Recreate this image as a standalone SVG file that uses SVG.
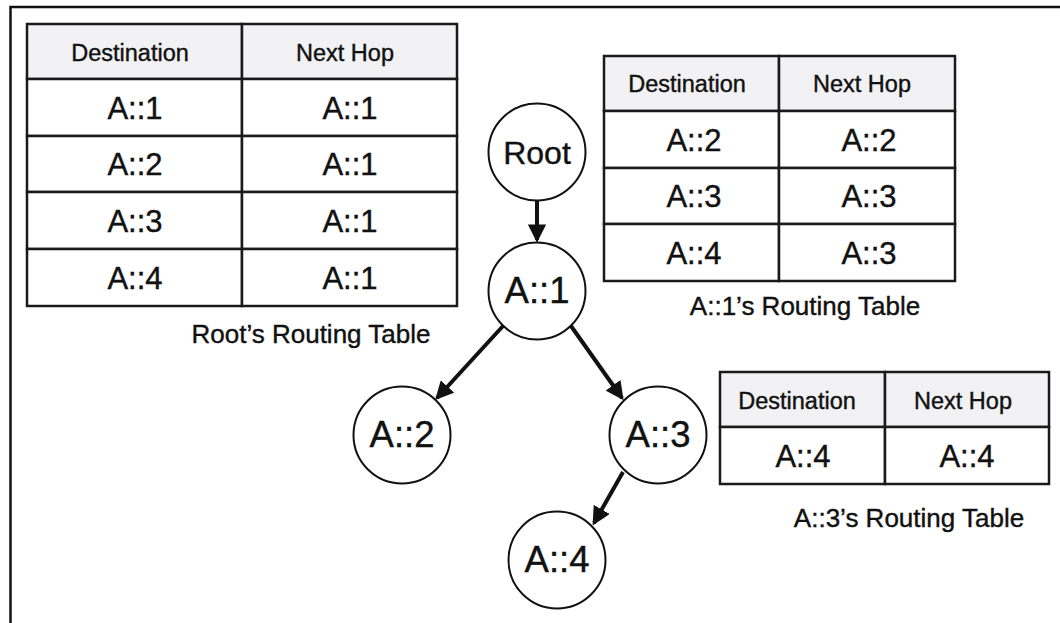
<svg xmlns="http://www.w3.org/2000/svg" width="1060" height="623" viewBox="0 0 1060 623">
<style>
text{font-family:"Liberation Sans",Arial,sans-serif;fill:#111;stroke:#111;stroke-width:0.4;text-anchor:middle}
.hd{fill:#f2f2f4;stroke:#1a1a1a;stroke-width:2.5}
.cell{fill:#fff;stroke:#1a1a1a;stroke-width:2.5}
.th{font-size:23.5px}
.td{font-size:31px}
.cap{font-size:26px}
.node circle{fill:#fff;stroke:#111;stroke-width:2}
.nt{font-size:36.5px}
.edge{stroke:#111;stroke-width:4;fill:none;marker-end:url(#ah)}
</style>
<defs>
<marker id="ah" markerWidth="4.6" markerHeight="4.6" refX="3.9" refY="2.3" orient="auto" markerUnits="strokeWidth">
<path d="M0,0 L4.6,2.3 L0,4.6 Z" fill="#111"/>
</marker>
</defs>
<rect width="1060" height="623" fill="#fff"/>
<path d="M10.5,623 V7 H1060" fill="none" stroke="#111" stroke-width="2.5"/>

<g id="root-table">
<rect class="hd" x="27" y="24" width="215" height="55"/>
<rect class="hd" x="242" y="24" width="215" height="55"/>
<rect class="cell" x="27" y="79" width="215" height="57"/>
<rect class="cell" x="242" y="79" width="215" height="57"/>
<rect class="cell" x="27" y="136" width="215" height="56"/>
<rect class="cell" x="242" y="136" width="215" height="56"/>
<rect class="cell" x="27" y="192" width="215" height="57"/>
<rect class="cell" x="242" y="192" width="215" height="57"/>
<rect class="cell" x="27" y="249" width="215" height="57"/>
<rect class="cell" x="242" y="249" width="215" height="57"/>
<text class="th" x="130" y="61">Destination</text>
<text class="th" x="345" y="61">Next Hop</text>
<text class="td" x="135" y="119">A::1</text><text class="td" x="350" y="119">A::1</text>
<text class="td" x="135" y="175">A::2</text><text class="td" x="350" y="175">A::1</text>
<text class="td" x="135" y="232">A::3</text><text class="td" x="350" y="232">A::1</text>
<text class="td" x="135" y="289">A::4</text><text class="td" x="350" y="289">A::1</text>
<text class="cap" x="311" y="343">Root’s Routing Table</text>
</g>

<g id="a1-table">
<rect class="hd" x="604" y="56" width="175" height="55"/>
<rect class="hd" x="779" y="56" width="176" height="55"/>
<rect class="cell" x="604" y="111" width="175" height="57"/>
<rect class="cell" x="779" y="111" width="176" height="57"/>
<rect class="cell" x="604" y="168" width="175" height="56"/>
<rect class="cell" x="779" y="168" width="176" height="56"/>
<rect class="cell" x="604" y="224" width="175" height="57"/>
<rect class="cell" x="779" y="224" width="176" height="57"/>
<text class="th" x="687" y="92">Destination</text>
<text class="th" x="862" y="92">Next Hop</text>
<text class="td" x="694" y="151">A::2</text><text class="td" x="869" y="151">A::2</text>
<text class="td" x="694" y="207">A::3</text><text class="td" x="869" y="207">A::3</text>
<text class="td" x="694" y="264">A::4</text><text class="td" x="869" y="264">A::3</text>
<text class="cap" x="805" y="315">A::1’s Routing Table</text>
</g>

<g id="a3-table">
<rect class="hd" x="720" y="372" width="165" height="55"/>
<rect class="hd" x="885" y="372" width="164" height="55"/>
<rect class="cell" x="720" y="427" width="165" height="57"/>
<rect class="cell" x="885" y="427" width="164" height="57"/>
<text class="th" x="797" y="409">Destination</text>
<text class="th" x="963" y="409">Next Hop</text>
<text class="td" x="803" y="467">A::4</text><text class="td" x="967" y="467">A::4</text>
<text class="cap" x="909" y="527">A::3’s Routing Table</text>
</g>

<g id="connectors">
<line class="edge" x1="537" y1="200" x2="537" y2="240"/>
<line class="edge" x1="503" y1="326" x2="437" y2="398"/>
<line class="edge" x1="571" y1="326" x2="622" y2="398"/>
<line class="edge" x1="623" y1="472" x2="594" y2="523"/>
</g>

<g id="node-root" class="node"><circle cx="537" cy="152" r="48.5"/><text class="nt" x="537" y="164" style="font-size:32px">Root</text></g>
<g id="node-a1" class="node"><circle cx="537" cy="291" r="48.5"/><text class="nt" x="537" y="303">A::1</text></g>
<g id="node-a2" class="node"><circle cx="402" cy="435" r="48.5"/><text class="nt" x="402" y="447">A::2</text></g>
<g id="node-a3" class="node"><circle cx="658" cy="435" r="48.5"/><text class="nt" x="658" y="447">A::3</text></g>
<g id="node-a4" class="node"><circle cx="557" cy="560" r="48.5"/><text class="nt" x="557" y="572">A::4</text></g>
</svg>
